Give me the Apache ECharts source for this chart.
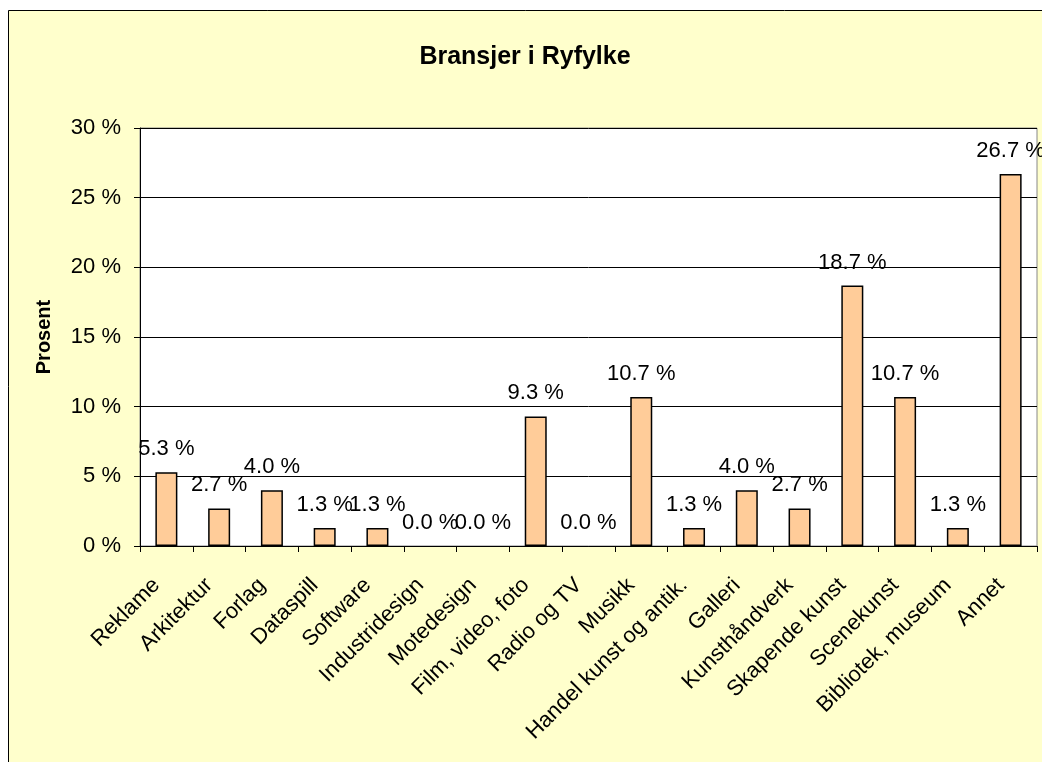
<!DOCTYPE html>
<html>
<head>
<meta charset="utf-8">
<script src="https://cdn.jsdelivr.net/npm/echarts@6/dist/echarts.min.js"></script>
<style>
  html, body { margin: 0; padding: 0; background: #fff; }
  #chart { width: 1042px; height: 762px; }
</style>
</head>
<body>
<div id="chart"></div>
<script>
// kategorier og verdier (prosent)
var categories = ['Reklame', 'Arkitektur', 'Forlag', 'Dataspill', 'Software', 'Industridesign',
  'Motedesign', 'Film, video, foto', 'Radio og TV', 'Musikk', 'Handel kunst og antik.',
  'Galleri', 'Kunsthåndverk', 'Skapende kunst', 'Scenekunst', 'Bibliotek, museum', 'Annet'];
var values = [5.3, 2.7, 4.0, 1.3, 1.3, 0.0, 0.0, 9.3, 0.0, 10.7, 1.3, 4.0, 2.7, 18.7, 10.7, 1.3, 26.7];
var yTicks = [0, 5, 10, 15, 20, 25, 30];

var font = 'Liberation Sans, Arial, sans-serif';

// søyler med verdi 0 tegnes uten kantlinje
var barData = values.map(function (v) {
  return { value: v, itemStyle: { borderWidth: v === 0 ? 0 : 1.5 } };
});

var chart = echarts.init(document.getElementById('chart'));
chart.setOption({
  backgroundColor: '#fff',
  animation: false,
  graphic: [{
    type: 'rect',
    z: -10,
    silent: true,
    shape: { x: 8.5, y: 10.5, width: 1100, height: 800 },
    style: { fill: '#FFFFCC', stroke: '#000', lineWidth: 1 }
  }],
  title: {
    text: 'Bransjer i Ryfylke',
    left: 520,
    textAlign: 'center',
    top: 40,
    textStyle: { fontFamily: font, fontSize: 25, fontWeight: 'bold', color: '#000' }
  },
  grid: {
    left: 140, top: 128, width: 897, height: 418,
    show: true, backgroundColor: '#fff', borderColor: '#888', borderWidth: 1,
    containLabel: false
  },
  xAxis: {
    type: 'category',
    data: categories,
    axisLine: { lineStyle: { color: '#000', width: 1 } },
    axisTick: { show: true, length: 6, lineStyle: { color: '#000' } },
    axisLabel: {
      rotate: 45, interval: 0, margin: 26,
      padding: [0, 14, 0, 0],
      fontFamily: font, fontSize: 22, color: '#000'
    }
  },
  yAxis: {
    type: 'value',
    min: yTicks[0], max: yTicks[yTicks.length - 1], interval: 5,
    name: 'Prosent',
    nameLocation: 'middle',
    nameGap: 86,
    nameTextStyle: { fontFamily: font, fontSize: 20, fontWeight: 'bold', color: '#000' },
    axisLine: { show: true, lineStyle: { color: '#000', width: 1 } },
    axisTick: { show: true, length: 6, lineStyle: { color: '#000' } },
    splitLine: { lineStyle: { color: '#000', width: 1 } },
    axisLabel: {
      margin: 19,
      fontFamily: font, fontSize: 22, color: '#000',
      formatter: function (v) { return v + ' %'; }
    }
  },
  series: [{
    type: 'bar',
    data: barData,
    barWidth: 22,
    itemStyle: { color: '#FFCC99', borderColor: '#000', borderWidth: 1.5 },
    label: {
      show: true,
      position: 'top',
      distance: 12,
      fontFamily: font, fontSize: 22, color: '#000',
      formatter: function (p) { return p.value.toFixed(1) + ' %'; }
    }
  }]
});
</script>
</body>
</html>
